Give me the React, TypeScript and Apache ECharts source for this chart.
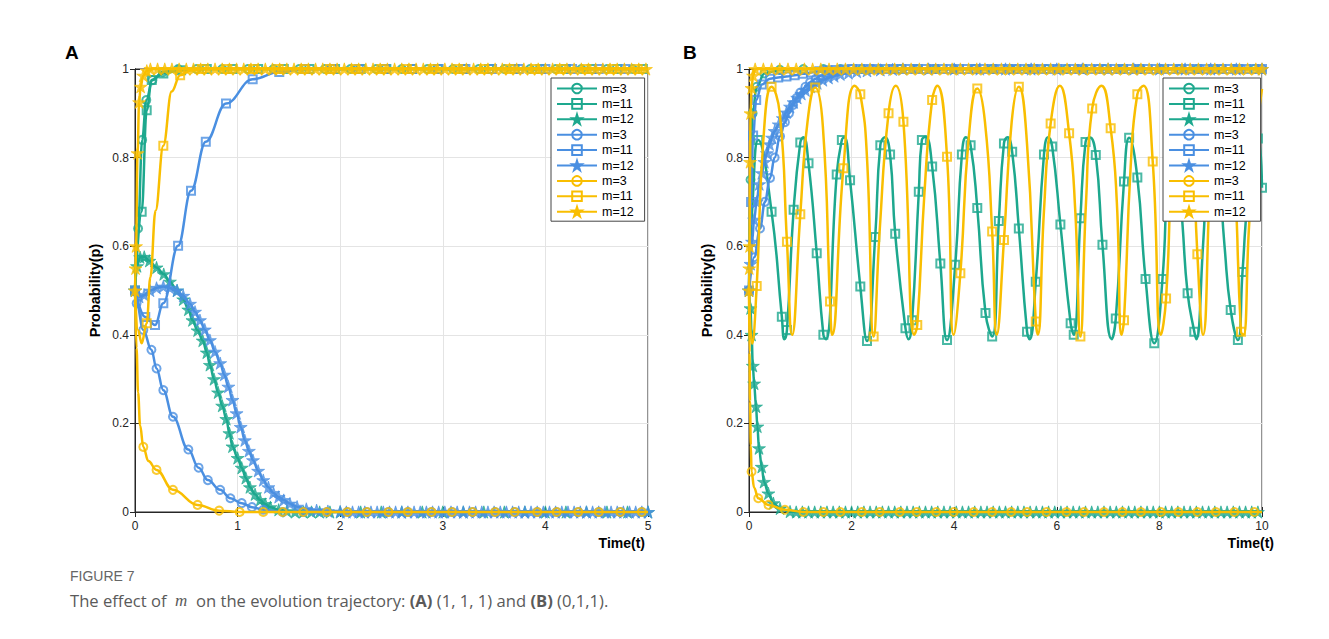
import React, { useEffect, useRef } from 'react';
import * as echarts from 'echarts';

type P = [number, number];

const FONT = "'Liberation Sans', Arial, Helvetica, sans-serif";
const TEAL = '#1da88e';
const BLUE = '#4a8fe1';
const YEL = '#f9be00';
const AXC = '#262626';
const GRIDC = '#e4e4e4';
const STAR = 'path://M50,0L61.2,34.5L97.6,34.5L68.2,55.9L79.4,90.5L50,69.1L20.6,90.5L31.8,55.9L2.4,34.5L38.8,34.5Z';

const legendLabels = ['m=3', 'm=11', 'm=12', 'm=3', 'm=11', 'm=12', 'm=3', 'm=11', 'm=12'];
const xTicksA = { min: 0, max: 5, interval: 1 };
const xTicksB = { min: 0, max: 10, interval: 2 };

const flat = (ts: number[], v: number): P[] => ts.map((t) => [t, v] as P);

// ---------- Panel A : (1,1,1) ----------
const aTealCircle: P[] = [[0, 0.5], [0.03, 0.64], [0.07, 0.84], [0.11, 0.93], [0.17, 0.975], [0.27, 0.993], [0.42, 1],
  ...flat([0.6, 0.85, 1.1, 1.35, 1.6, 1.85, 2.1, 2.35, 2.6, 2.85, 3.1, 3.35, 3.6, 3.85, 4.1, 4.35, 4.6, 4.85], 1)];
const aTealCircleC: P[] = [[5, 1]];

const aTealSquare: P[] = [[0, 0.5], [0.065, 0.678], [0.114, 0.907], [0.163, 0.975], [0.276, 0.99], [0.45, 0.997],
  ...flat([0.7, 0.95, 1.2, 1.45, 1.7, 1.95, 2.2, 2.45, 2.7, 2.95, 3.2, 3.45, 3.7, 3.95, 4.2, 4.45, 4.7, 4.95], 1)];
const aTealSquareC: P[] = [[5, 1]];

const aTealStar: P[] = [[0, 0.5], [0.02, 0.555], [0.05, 0.575], [0.09, 0.576], [0.14, 0.567], [0.21, 0.552], [0.28, 0.537],
  [0.34, 0.52], [0.41, 0.5], [0.47, 0.48], [0.52, 0.457], [0.56, 0.433], [0.61, 0.41], [0.66, 0.387], [0.7, 0.36],
  [0.73, 0.332], [0.77, 0.3], [0.81, 0.27], [0.85, 0.24], [0.89, 0.21], [0.92, 0.178], [0.95, 0.148], [1.0, 0.122],
  [1.04, 0.1], [1.08, 0.077], [1.12, 0.056], [1.17, 0.04], [1.22, 0.027], [1.27, 0.018], [1.32, 0.011], [1.4, 0.005],
  [1.48, 0.002],
  ...flat([1.56, 1.64, 1.72, 1.8, 1.9, 2.0, 2.2, 2.4, 2.6, 2.8, 3.0, 3.2, 3.4, 3.6, 3.8, 4.0, 4.2, 4.4, 4.6, 4.8, 5.0], 0)];

const aBlueCircle: P[] = [[0, 0.5], [0.016, 0.471], [0.081, 0.411], [0.16, 0.366], [0.21, 0.324], [0.276, 0.275],
  [0.37, 0.215], [0.52, 0.141], [0.62, 0.1], [0.71, 0.072], [0.83, 0.05], [0.93, 0.031], [1.04, 0.02], [1.14, 0.011],
  [1.25, 0.005],
  ...flat([1.44, 1.64, 1.87, 2.07, 2.26, 2.47, 2.66, 2.89, 3.09, 3.29, 3.51, 3.7, 3.92, 4.11, 4.32, 4.52, 4.73, 4.94], 0)];
const aBlueCircleC: P[] = [[5, 0]];

const aBlueSquare: P[] = [[0, 0.5], [0.1, 0.44], [0.195, 0.422], [0.276, 0.471], [0.42, 0.601], [0.546, 0.725],
  [0.69, 0.836], [0.887, 0.922], [1.147, 0.977], [1.406, 0.993],
  ...flat([1.66, 1.92, 2.18, 2.44, 2.7, 2.96, 3.22, 3.48, 3.74, 4.0, 4.26, 4.52, 4.78], 1)];
const aBlueSquareC: P[] = [[5, 1]];

const aBlueStarZeroT = [2.06, 2.12, 2.18, 2.24, 2.3, 2.36, 2.42, 2.48, 2.54, 2.6, 2.66, 2.72, 2.78, 2.84, 2.9, 2.96,
  3.02, 3.08, 3.14, 3.2, 3.26, 3.32, 3.38, 3.44, 3.5, 3.56, 3.62, 3.68, 3.74, 3.8, 3.86, 3.92, 3.98, 4.04, 4.1, 4.16,
  4.22, 4.28, 4.34, 4.4, 4.46, 4.52, 4.58, 4.64, 4.7, 4.76, 4.82, 4.88, 4.94, 5.0];
const aBlueStar: P[] = [[0, 0.5], [0.04, 0.486], [0.09, 0.49], [0.146, 0.5], [0.21, 0.506], [0.276, 0.509], [0.34, 0.506],
  [0.41, 0.5], [0.47, 0.488], [0.536, 0.47], [0.585, 0.452], [0.633, 0.433], [0.68, 0.412], [0.73, 0.388], [0.78, 0.362],
  [0.83, 0.336], [0.87, 0.31], [0.91, 0.283], [0.95, 0.253], [0.99, 0.223], [1.03, 0.192], [1.07, 0.162], [1.11, 0.138],
  [1.15, 0.117], [1.2, 0.093], [1.25, 0.072], [1.3, 0.056], [1.35, 0.043], [1.4, 0.034], [1.45, 0.027], [1.51, 0.019],
  [1.58, 0.012], [1.67, 0.007], [1.77, 0.004], [1.88, 0.002], [2.0, 0.001], ...flat(aBlueStarZeroT, 0)];

const aYellowCircle: P[] = [[0.081, 0.147], [0.21, 0.095], [0.37, 0.05], [0.61, 0.016], [0.82, 0.003],
  ...flat([1.02, 1.25, 1.44, 1.64, 1.87, 2.07, 2.26, 2.47, 2.66, 2.89, 3.09, 3.29, 3.51, 3.7, 3.92, 4.11, 4.32, 4.52, 4.73, 4.94], 0)];
const aYellowCircleC: P[] = [[0, 0.5], [0.015, 0.37], [0.03, 0.27], [0.05, 0.195], [0.13, 0.115], [5, 0]];

const aYellowSquare: P[] = [[0.114, 0.426], [0.276, 0.827], [0.44, 0.986],
  ...flat([0.65, 0.9, 1.15, 1.4, 1.65, 1.9, 2.15, 2.4, 2.65, 2.9, 3.15, 3.4, 3.65, 3.9, 4.15, 4.4, 4.65, 4.9], 1)];
const aYellowSquareC: P[] = [[0, 0.5], [0.03, 0.41], [0.065, 0.381], [0.15, 0.53], [0.2, 0.68], [0.357, 0.949], [0.55, 0.997], [5, 1]];

const aYStarTopT = [0.15, 0.22, 0.29, 0.36, 0.43, 0.5, 0.57, 0.64, 0.71, 0.78, 0.85, 0.92, 0.99, 1.06, 1.13, 1.2, 1.27,
  1.34, 1.41, 1.48, 1.55, 1.62, 1.69, 1.76, 1.83, 1.9, 1.97, 2.04, 2.11, 2.18, 2.25, 2.32, 2.39, 2.46, 2.53, 2.6, 2.67,
  2.74, 2.81, 2.88, 2.95, 3.02, 3.09, 3.16, 3.23, 3.3, 3.37, 3.44, 3.51, 3.58, 3.65, 3.72, 3.79, 3.86, 3.93, 4.0, 4.07,
  4.14, 4.21, 4.28, 4.35, 4.42, 4.49, 4.56, 4.63, 4.7, 4.77, 4.84, 4.91, 4.98];
const aYellowStar: P[] = [[0, 0.5], [0.005, 0.55], [0.01, 0.6], [0.025, 0.81], [0.04, 0.925], [0.055, 0.96], [0.08, 0.985],
  [0.115, 0.996], ...flat(aYStarTopT, 1)];

// ---------- Panel B : (0,1,1) ----------
const bTealCircle: P[] = [[0, 0.5], [0.03, 0.75], [0.07, 0.9], [0.15, 0.96], [0.3, 0.99], [0.6, 0.998],
  ...flat([1.06, 1.45, 1.78, 2.2, 2.55, 2.94, 3.27, 3.65, 3.99, 4.38, 4.74, 5.11, 5.42, 5.8, 6.19, 6.53, 6.92, 7.28, 7.64, 8.03, 8.37, 8.74, 9.1, 9.46, 9.85], 1)];
const bTealCircleC: P[] = [[10, 1]];

const bTealSquare: P[] = [[0.18, 0.84], [0.44, 0.678], [0.64, 0.441], [0.74, 0.411], [0.87, 0.682], [1.0, 0.834],
  [1.16, 0.787], [1.32, 0.584], [1.45, 0.4], [1.71, 0.762], [1.81, 0.84], [1.97, 0.749], [2.17, 0.509], [2.3, 0.386],
  [2.46, 0.621], [2.56, 0.828], [2.75, 0.807], [2.85, 0.628], [3.05, 0.415], [3.18, 0.433], [3.31, 0.723], [3.37, 0.84],
  [3.57, 0.78], [3.73, 0.561], [3.86, 0.388], [4.02, 0.558], [4.15, 0.807], [4.32, 0.828], [4.45, 0.686], [4.61, 0.449],
  [4.74, 0.396], [4.87, 0.657], [4.97, 0.832], [5.13, 0.813], [5.26, 0.64], [5.42, 0.407], [5.59, 0.52], [5.75, 0.807],
  [5.91, 0.825], [6.07, 0.649], [6.27, 0.426], [6.33, 0.4], [6.46, 0.663], [6.56, 0.835], [6.76, 0.806], [6.89, 0.603],
  [7.15, 0.437], [7.31, 0.746], [7.41, 0.845], [7.57, 0.755], [7.73, 0.526], [7.9, 0.381], [8.06, 0.526], [8.55, 0.494],
  [8.68, 0.407], [9.39, 0.456], [9.53, 0.388], [9.62, 0.542], [9.92, 0.843], [10, 0.732]];
const bTealSquareC: P[] = [[0, 0.5], [0.08, 0.72], [0.69, 0.39], [1.06, 0.846], [1.5, 0.39], [1.86, 0.846], [2.65, 0.846],
  [3.11, 0.39], [3.44, 0.847], [4.23, 0.846], [5.04, 0.846], [5.47, 0.39], [5.83, 0.846], [6.64, 0.846], [7.07, 0.39],
  [8.16, 0.77], [8.24, 0.846], [8.35, 0.8], [8.45, 0.65], [8.72, 0.39], [8.85, 0.6], [8.95, 0.8], [9.03, 0.846],
  [9.14, 0.79], [9.27, 0.6], [9.75, 0.74]];

const bTealStarZeroT = [0.92, 1.04, 1.16, 1.28, 1.4, 1.52, 1.64, 1.76, 1.88, 2.0, 2.12, 2.24, 2.36, 2.48, 2.6, 2.72, 2.84,
  2.96, 3.08, 3.2, 3.32, 3.44, 3.56, 3.68, 3.8, 3.92, 4.04, 4.16, 4.28, 4.4, 4.52, 4.64, 4.76, 4.88, 5.0, 5.12, 5.24,
  5.36, 5.48, 5.6, 5.72, 5.84, 5.96, 6.08, 6.2, 6.32, 6.44, 6.56, 6.68, 6.8, 6.92, 7.04, 7.16, 7.28, 7.4, 7.52, 7.64,
  7.76, 7.88, 8.0, 8.12, 8.24, 8.36, 8.48, 8.6, 8.72, 8.84, 8.96, 9.08, 9.2, 9.32, 9.44, 9.56, 9.68, 9.8, 9.92];
const bTealStar: P[] = [[0, 0.5], [0.03, 0.46], [0.05, 0.4], [0.075, 0.33], [0.1, 0.29], [0.137, 0.238], [0.163, 0.193],
  [0.195, 0.144], [0.248, 0.102], [0.293, 0.068], [0.378, 0.042], [0.475, 0.02], [0.605, 0.008], [0.8, 0.001],
  ...flat(bTealStarZeroT, 0)];
const bTealStarC: P[] = [[10, 0]];

const bBlueCircle: P[] = [[0, 0.5], [0.1, 0.575], [0.215, 0.64], [0.31, 0.7], [0.41, 0.754], [0.5, 0.8], [0.605, 0.848],
  [0.7, 0.88], [0.78, 0.9], [0.86, 0.919], [0.93, 0.935], [1.0, 0.947], [1.1, 0.96], [1.19, 0.97], [1.3, 0.978],
  [1.4, 0.985], [1.55, 0.991], [1.78, 0.997], [2.0, 1],
  ...flat([2.4, 2.8, 3.2, 3.6, 4.0, 4.4, 4.8, 5.2, 5.6, 6.0, 6.4, 6.8, 7.2, 7.6, 8.0, 8.4, 8.8, 9.2, 9.6, 10.0], 1)];

const bBlueSquareTopT = [2.17, 2.33, 2.49, 2.65, 2.81, 2.97, 3.13, 3.29, 3.45, 3.61, 3.77, 3.93, 4.09, 4.25, 4.41, 4.57,
  4.73, 4.89, 5.05, 5.21, 5.37, 5.53, 5.69, 5.85, 6.01, 6.17, 6.33, 6.49, 6.65, 6.81, 6.97, 7.13, 7.29, 7.45, 7.61,
  7.77, 7.93, 8.09, 8.25, 8.41, 8.57, 8.73, 8.89, 9.05, 9.21, 9.37, 9.53, 9.69, 9.85, 10.0];
const bBlueSquare: P[] = [[0, 0.5], [0.04, 0.7], [0.08, 0.85], [0.14, 0.93], [0.25, 0.965], [0.41, 0.978], [0.57, 0.981],
  [0.73, 0.983], [0.89, 0.986], [1.05, 0.989], [1.21, 0.992], [1.37, 0.995], [1.53, 0.997], [1.69, 0.998], [1.85, 0.999],
  [2.01, 1], ...flat(bBlueSquareTopT, 1)];

const bBlueStar: P[] = [[0, 0.5], [0.03, 0.56], [0.06, 0.61], [0.1, 0.66], [0.15, 0.7], [0.2, 0.74], [0.25, 0.765],
  [0.3, 0.79], [0.35, 0.81], [0.4, 0.83], [0.45, 0.845], [0.5, 0.86], [0.58, 0.875], [0.66, 0.889], [0.73, 0.902],
  [0.8, 0.915], [0.87, 0.925], [0.94, 0.935], [1.02, 0.944], [1.1, 0.952], [1.2, 0.96], [1.33, 0.968], [1.44, 0.975],
  [1.55, 0.98], [1.66, 0.984], [1.78, 0.988], [1.94, 0.991], [2.1, 0.994], [2.3, 0.996], [2.56, 0.998], [2.8, 0.999],
  [3.0, 1], ...flat([3.5, 4.0, 4.5, 5.0, 5.5, 6.0, 6.5, 7.0, 7.5, 8.0, 8.5, 9.0, 9.5, 10.0], 1)];

const bYellowCircle: P[] = [[0.05, 0.091], [0.18, 0.031], [0.38, 0.016], [0.7, 0.005], [1.06, 0],
  ...flat([1.45, 1.78, 2.2, 2.55, 2.94, 3.27, 3.65, 3.99, 4.38, 4.74, 5.11, 5.42, 5.8, 6.19, 6.53, 6.92, 7.28, 7.64, 8.03, 8.37, 8.74, 9.1, 9.46, 9.85], 0)];
const bYellowCircleC: P[] = [[0, 0.5], [0.01, 0.36], [0.02, 0.25], [0.035, 0.15], [0.1, 0.055], [10, 0]];

const bYellowSquare: P[] = [[0.15, 0.51], [0.44, 0.96], [0.74, 0.61], [1.0, 0.672], [1.29, 0.958], [1.58, 0.475],
  [1.84, 0.776], [2.17, 0.943], [2.43, 0.396], [2.72, 0.9], [3.01, 0.881], [3.28, 0.422], [3.57, 0.93], [3.86, 0.802],
  [4.12, 0.539], [4.45, 0.956], [4.74, 0.633], [4.97, 0.614], [5.26, 0.96], [5.59, 0.43], [5.88, 0.877], [6.24, 0.855],
  [6.46, 0.396], [6.69, 0.911], [7.05, 0.866], [7.31, 0.433], [7.57, 0.943], [7.87, 0.791], [8.13, 0.482], [8.74, 0.582],
  [9.59, 0.407], [9.88, 0.843]];
const bYellowSquareC: P[] = [[0, 0.5], [0.06, 0.38], [0.28, 0.84], [0.6, 0.9], [0.84, 0.4], [1.14, 0.88], [1.44, 0.87],
  [1.62, 0.4], [2.06, 0.962], [2.3, 0.8], [2.55, 0.64], [2.86, 0.962], [3.22, 0.4], [3.42, 0.72], [3.67, 0.962],
  [3.99, 0.4], [4.28, 0.84], [4.6, 0.88], [4.83, 0.4], [5.12, 0.88], [5.42, 0.83], [5.63, 0.4], [5.75, 0.68],
  [6.06, 0.962], [6.36, 0.68], [6.57, 0.7], [6.87, 0.962], [7.17, 0.7], [7.26, 0.4], [7.44, 0.78], [7.69, 0.962],
  [8.03, 0.4], [8.28, 0.85], [8.46, 0.962], [8.62, 0.87], [8.85, 0.4], [9.0, 0.78], [9.1, 0.92], [9.25, 0.962],
  [9.42, 0.86], [9.64, 0.4], [9.75, 0.65], [10, 0.955]];

const bYStarTopT = [0.12, 0.28, 0.44, 0.6, 0.76, 0.92, 1.08, 1.24, 1.4, 1.56, 1.72, 1.88, 2.04, 2.2, 2.36, 2.52, 2.68,
  2.84, 3.0, 3.16, 3.32, 3.48, 3.64, 3.8, 3.96, 4.12, 4.28, 4.44, 4.6, 4.76, 4.92, 5.08, 5.24, 5.4, 5.56, 5.72, 5.88,
  6.04, 6.2, 6.36, 6.52, 6.68, 6.84, 7.0, 7.16, 7.32, 7.48, 7.64, 7.8, 7.96, 8.12, 8.28, 8.44, 8.6, 8.76, 8.92, 9.08,
  9.24, 9.4, 9.56, 9.72, 9.88, 10.0];
const bYellowStar: P[] = [[0, 0.5], [0.005, 0.55], [0.01, 0.6], [0.02, 0.79], [0.03, 0.9], [0.05, 0.957], [0.08, 0.985],
  ...flat(bYStarTopT, 1)];

type Def = { color: string; sym: 'circle' | 'square' | 'star'; marks: P[]; curve?: P[]; wave?: boolean };

const panelA: Def[] = [
  { color: TEAL, sym: 'circle', marks: aTealCircle, curve: aTealCircleC },
  { color: TEAL, sym: 'square', marks: aTealSquare, curve: aTealSquareC },
  { color: TEAL, sym: 'star', marks: aTealStar },
  { color: BLUE, sym: 'circle', marks: aBlueCircle, curve: aBlueCircleC },
  { color: BLUE, sym: 'square', marks: aBlueSquare, curve: aBlueSquareC },
  { color: BLUE, sym: 'star', marks: aBlueStar },
  { color: YEL, sym: 'circle', marks: aYellowCircle, curve: aYellowCircleC },
  { color: YEL, sym: 'square', marks: aYellowSquare, curve: aYellowSquareC },
  { color: YEL, sym: 'star', marks: aYellowStar },
];

const panelB: Def[] = [
  { color: TEAL, sym: 'circle', marks: bTealCircle, curve: bTealCircleC },
  { color: TEAL, sym: 'square', marks: bTealSquare, curve: bTealSquareC, wave: true },
  { color: TEAL, sym: 'star', marks: bTealStar, curve: bTealStarC },
  { color: BLUE, sym: 'circle', marks: bBlueCircle },
  { color: BLUE, sym: 'square', marks: bBlueSquare },
  { color: BLUE, sym: 'star', marks: bBlueStar },
  { color: YEL, sym: 'circle', marks: bYellowCircle, curve: bYellowCircleC },
  { color: YEL, sym: 'square', marks: bYellowSquare, curve: bYellowSquareC, wave: true },
  { color: YEL, sym: 'star', marks: bYellowStar },
];

function mergeLine(d: Def): P[] {
  const all = [...d.marks, ...(d.curve || [])].sort((a, b) => a[0] - b[0]);
  const out: P[] = [];
  for (const p of all) {
    if (out.length && Math.abs(out[out.length - 1][0] - p[0]) < 1e-9) continue;
    out.push(p);
  }
  return out;
}

function seriesNames(prefix: string) {
  return legendLabels.map((l, i) => `${prefix}${i}:${l}`);
}

function buildSeries(defs: Def[], axisIndex: number, prefix: string, zBase: number) {
  const names = seriesNames(prefix);
  const out: any[] = [];
  defs.forEach((d, i) => {
    const isStar = d.sym === 'star';
    const symbol = isStar ? STAR : d.sym === 'square' ? 'rect' : 'circle';
    const size = isStar ? 13 : 8;
    const itemStyle = isStar
      ? { color: d.color, borderColor: d.color, borderWidth: 0.8 }
      : { color: 'rgba(255,255,255,0)', borderColor: d.color, borderWidth: 2 };
    out.push({
      type: 'line', name: names[i], xAxisIndex: axisIndex, yAxisIndex: axisIndex,
      data: mergeLine(d), showSymbol: false, symbol, symbolSize: size, symbolKeepAspect: true,
      smooth: d.wave ? 0.5 : 0.4, smoothMonotone: d.wave ? undefined : 'x', clip: false, silent: true,
      lineStyle: { color: d.color, width: 2.5 }, itemStyle, z: zBase + i * 2,
    });
    out.push({
      type: 'scatter', name: `${prefix}${i}_mk`, xAxisIndex: axisIndex, yAxisIndex: axisIndex,
      data: d.marks, symbol, symbolSize: size, symbolKeepAspect: true, clip: false, silent: true,
      itemStyle, z: zBase + i * 2 + 1,
    });
  });
  return out;
}

function bottomX(gi: number, t: { min: number; max: number; interval: number }) {
  return {
    type: 'value', gridIndex: gi, position: 'bottom', ...t,
    axisLine: { show: true, lineStyle: { color: AXC, width: 1 } },
    axisTick: { show: true, inside: true, length: 5, lineStyle: { color: AXC } },
    axisLabel: { color: AXC, fontSize: 12, fontFamily: FONT, margin: 8 },
    splitLine: { show: true, lineStyle: { color: GRIDC, width: 1 } },
  };
}
function topX(gi: number, t: { min: number; max: number; interval: number }) {
  return {
    type: 'value', gridIndex: gi, position: 'top', ...t,
    axisLine: { show: true, lineStyle: { color: AXC, width: 1 } },
    axisTick: { show: true, inside: true, length: 5, lineStyle: { color: AXC } },
    axisLabel: { show: false }, splitLine: { show: false },
  };
}
function leftY(gi: number) {
  return {
    type: 'value', gridIndex: gi, position: 'left', min: 0, max: 1, interval: 0.2,
    axisLine: { show: true, lineStyle: { color: AXC, width: 1 } },
    axisTick: { show: true, inside: true, length: 5, lineStyle: { color: AXC } },
    axisLabel: { color: AXC, fontSize: 12, fontFamily: FONT, margin: 6 },
    splitLine: { show: true, lineStyle: { color: GRIDC, width: 1 } },
  };
}
function rightY(gi: number) {
  return {
    type: 'value', gridIndex: gi, position: 'right', min: 0, max: 1, interval: 0.2,
    axisLine: { show: true, lineStyle: { color: AXC, width: 1 } },
    axisTick: { show: true, inside: true, length: 5, lineStyle: { color: AXC } },
    axisLabel: { show: false }, splitLine: { show: false },
  };
}

function legendFor(prefix: string, left: number, padRight: number) {
  return {
    data: seriesNames(prefix), orient: 'vertical', left, top: 70,
    itemWidth: 40, itemHeight: 12, itemGap: 2.4, padding: [4, padRight, 3, 5],
    borderColor: '#444', borderWidth: 1, backgroundColor: '#fff', selectedMode: false,
    textStyle: { fontSize: 12.5, color: '#000', fontFamily: FONT, lineHeight: 12 },
    formatter: (n: string) => n.slice(n.indexOf(':') + 1), z: 60,
  };
}

const captionText = '{a|The effect of  }{m|m}{a|  on the evolution trajectory: }{b|(A)}{a| (1, 1, 1) and }{b|(B)}{a| (0,1,1).}';

function buildOption() {
  return {
    animation: false,
    grid: [
      { left: 127, top: 61, width: 513, height: 443, show: true, borderColor: AXC, borderWidth: 1, backgroundColor: 'rgba(0,0,0,0)' },
      { left: 741, top: 61, width: 513, height: 443, show: true, borderColor: AXC, borderWidth: 1, backgroundColor: 'rgba(0,0,0,0)' },
    ],
    xAxis: [bottomX(0, xTicksA), topX(0, xTicksA), bottomX(1, xTicksB), topX(1, xTicksB)],
    yAxis: [leftY(0), rightY(0), leftY(1), rightY(1)],
    legend: [legendFor('A', 543, 11), legendFor('B', 1155, 15)],
    graphic: [
      { type: 'text', x: 57, y: 44, z: 70, style: { text: 'A', font: `bold 19px ${FONT}`, fill: '#000', verticalAlign: 'middle' } },
      { type: 'text', x: 675, y: 44, z: 70, style: { text: 'B', font: `bold 19px ${FONT}`, fill: '#000', verticalAlign: 'middle' } },
      { type: 'text', x: 87, y: 282.5, rotation: Math.PI / 2, z: 70, style: { text: 'Probability(p)', font: `bold 14.5px ${FONT}`, fill: '#000', align: 'center', verticalAlign: 'middle' } },
      { type: 'text', x: 699, y: 282.5, rotation: Math.PI / 2, z: 70, style: { text: 'Probability(p)', font: `bold 14.5px ${FONT}`, fill: '#000', align: 'center', verticalAlign: 'middle' } },
      { type: 'text', x: 637, y: 535, z: 70, style: { text: 'Time(t)', font: `bold 14px ${FONT}`, fill: '#000', align: 'right', verticalAlign: 'middle' } },
      { type: 'text', x: 1266, y: 535, z: 70, style: { text: 'Time(t)', font: `bold 14px ${FONT}`, fill: '#000', align: 'right', verticalAlign: 'middle' } },
      { type: 'text', x: 62, y: 568, z: 70, style: { text: 'FIGURE 7', font: `14px ${FONT}`, fill: '#666', verticalAlign: 'middle' } },
      {
        type: 'text', x: 62, y: 592, z: 70,
        style: {
          text: captionText, verticalAlign: 'middle',
          rich: {
            a: { fontSize: 16.6, fontFamily: "'Open Sans', 'Noto Sans', sans-serif", fill: '#5a5a5a', color: '#5a5a5a' },
            b: { fontSize: 16.6, fontFamily: "'Open Sans', 'Noto Sans', sans-serif", fontWeight: 'bold', fill: '#5a5a5a', color: '#5a5a5a' },
            m: { fontSize: 17, fontFamily: "'Liberation Serif', 'DejaVu Serif', serif", fontStyle: 'italic', fill: '#5a5a5a', color: '#5a5a5a' },
          },
        },
      },
    ],
    series: [...buildSeries(panelA, 0, 'A', 3), ...buildSeries(panelB, 2, 'B', 3)],
  };
}

export default function App() {
  const ref = useRef<HTMLDivElement>(null);
  useEffect(() => {
    document.documentElement.style.overflow = 'hidden';
    document.body.style.overflow = 'hidden';
    const chart = echarts.init(ref.current as HTMLDivElement, undefined, { renderer: 'svg' });
    chart.setOption(buildOption() as any);
    return () => chart.dispose();
  }, []);
  return (
    <div
      style={{
        position: 'relative', width: 1315, height: 640, marginLeft: -1, marginTop: -1,
        borderTop: '1px solid #d4d4d4', borderLeft: '1px solid #d4d4d4', borderRight: '1px solid #d4d4d4',
        boxSizing: 'border-box', background: '#fff',
      }}
    >
      <div ref={ref} style={{ position: 'absolute', left: 0, top: 0, width: 1313, height: 631 }} />
    </div>
  );
}
